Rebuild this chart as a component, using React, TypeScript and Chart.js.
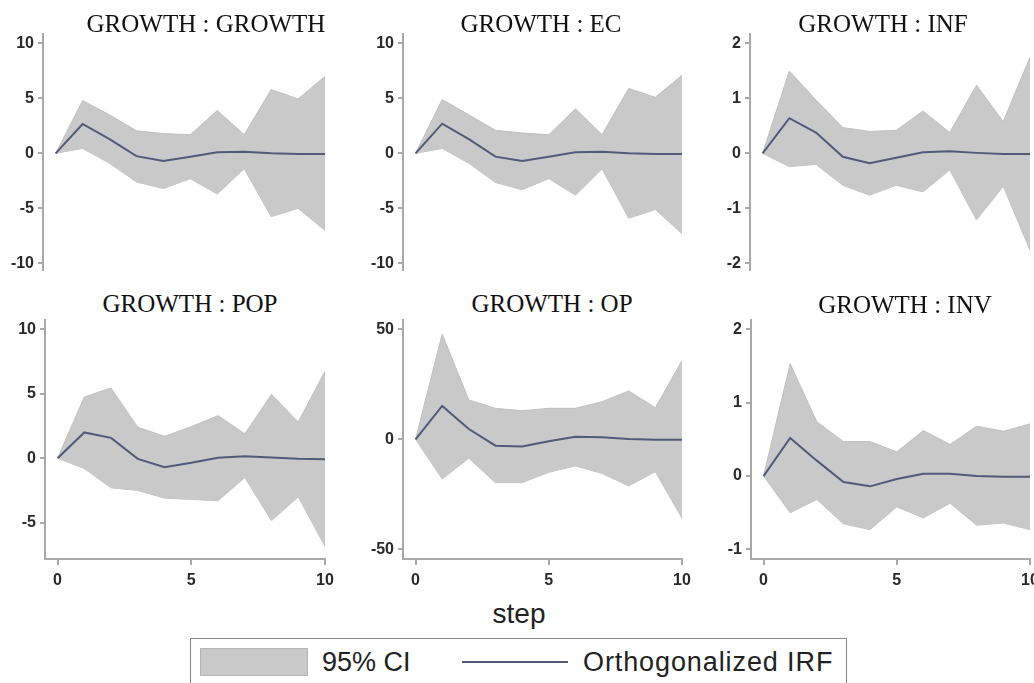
import React, { useEffect, useRef } from "react";
import { Chart, registerables } from "chart.js";

Chart.register(...registerables);

// ---------- data ----------
const STEPS = [0, 1, 2, 3, 4, 5, 6, 7, 8, 9, 10];
const X_TICKS = [0, 5, 10];

// GROWTH : GROWTH
const GG_IRF = [0, 2.67, 1.3, -0.25, -0.7, -0.3, 0.1, 0.15, 0, -0.05, -0.05];
const GG_UPPER = [0, 4.8, 3.5, 2.05, 1.8, 1.7, 3.9, 1.7, 5.8, 4.95, 7.0];
const GG_LOWER = [0, 0.45, -0.9, -2.6, -3.2, -2.3, -3.7, -1.4, -5.75, -5.0, -7.0];
const GG_TICKS = [-10, -5, 0, 5, 10];

// GROWTH : EC
const GE_IRF = [0, 2.7, 1.3, -0.3, -0.7, -0.3, 0.1, 0.15, 0, -0.05, -0.05];
const GE_UPPER = [0, 4.9, 3.5, 2.1, 1.85, 1.7, 4.05, 1.7, 5.9, 5.1, 7.1];
const GE_LOWER = [0, 0.45, -0.9, -2.65, -3.3, -2.3, -3.8, -1.4, -5.9, -5.1, -7.3];
const GE_TICKS = [-10, -5, 0, 5, 10];

// GROWTH : INF
const GI_IRF = [0, 0.64, 0.38, -0.06, -0.18, -0.08, 0.02, 0.04, 0.01, -0.01, -0.01];
const GI_UPPER = [0, 1.5, 0.97, 0.47, 0.4, 0.42, 0.77, 0.38, 1.24, 0.58, 1.75];
const GI_LOWER = [0, -0.24, -0.2, -0.58, -0.76, -0.58, -0.7, -0.3, -1.21, -0.6, -1.76];
const GI_TICKS = [-2, -1, 0, 1, 2];

// GROWTH : POP
const GP_IRF = [0, 2.0, 1.58, -0.05, -0.7, -0.36, 0.03, 0.15, 0.05, -0.05, -0.08];
const GP_UPPER = [0, 4.75, 5.45, 2.4, 1.7, 2.45, 3.3, 1.9, 4.95, 2.8, 6.75];
const GP_LOWER = [0, -0.8, -2.3, -2.5, -3.1, -3.2, -3.3, -1.5, -4.85, -3.0, -6.85];
const GP_TICKS = [-5, 0, 5, 10];

// GROWTH : OP
const GO_IRF = [0, 15.2, 4.7, -2.9, -3.3, -0.9, 1.2, 0.9, 0.15, -0.15, -0.15];
const GO_UPPER = [0, 47.9, 17.9, 14.1, 13.0, 14.1, 14.1, 17.1, 22.0, 14.4, 35.8];
const GO_LOWER = [0, -18.0, -8.6, -19.7, -19.7, -15.0, -12.1, -15.5, -21.2, -14.7, -35.9];
const GO_TICKS = [-50, 0, 50];

// GROWTH : INV
const GV_IRF = [0, 0.52, 0.21, -0.08, -0.14, -0.04, 0.03, 0.03, 0.0, -0.01, -0.01];
const GV_UPPER = [0, 1.53, 0.74, 0.47, 0.47, 0.33, 0.62, 0.43, 0.68, 0.61, 0.71];
const GV_LOWER = [0, -0.5, -0.32, -0.65, -0.73, -0.42, -0.57, -0.37, -0.67, -0.64, -0.73];
const GV_TICKS = [-1, 0, 1, 2];

const TITLES = [
  "GROWTH : GROWTH",
  "GROWTH : EC",
  "GROWTH : INF",
  "GROWTH : POP",
  "GROWTH : OP",
  "GROWTH : INV",
];
const X_TITLE = "step";
const LEGEND_CI = "95% CI";
const LEGEND_IRF = "Orthogonalized IRF";

// ---------- styles ----------
const FILL = "#c9c9c9";
const FILL_EDGE = "#c0c0c0";
const LINE = "#52597a";
const AXIS = "#a9a9a9";
const TICK_COLOR = "#2a2a2a";
const SANS = "'Liberation Sans', Arial, sans-serif";
const SERIF = "'Liberation Serif', 'Times New Roman', serif";
const Y_AXIS_W = 45;
const X_AXIS_H = 35;
const PAD_R = 12;
const X_MIN = -0.47;

type PanelDef = {
  title: string;
  irf: number[];
  upper: number[];
  lower: number[];
  yTicks: number[];
  yMin: number;
  yMax: number;
  showX: boolean;
  axisX: number; // px of y-axis line
  endX: number; // px of step 10
  top: number;
  bottom: number;
  titleX: number;
  titleY: number;
};

const PANELS: PanelDef[] = [
  { title: TITLES[0], irf: GG_IRF, upper: GG_UPPER, lower: GG_LOWER, yTicks: GG_TICKS, yMin: -10.6, yMax: 10.94, showX: false, axisX: 43, endX: 325, top: 33, bottom: 270, titleX: 206, titleY: 24 },
  { title: TITLES[1], irf: GE_IRF, upper: GE_UPPER, lower: GE_LOWER, yTicks: GE_TICKS, yMin: -10.6, yMax: 10.94, showX: false, axisX: 403, endX: 682, top: 33, bottom: 270, titleX: 541, titleY: 24 },
  { title: TITLES[2], irf: GI_IRF, upper: GI_UPPER, lower: GI_LOWER, yTicks: GI_TICKS, yMin: -2.12, yMax: 2.19, showX: false, axisX: 750, endX: 1030, top: 33, bottom: 270, titleX: 883, titleY: 24 },
  { title: TITLES[3], irf: GP_IRF, upper: GP_UPPER, lower: GP_LOWER, yTicks: GP_TICKS, yMin: -7.82, yMax: 10.8, showX: true, axisX: 45, endX: 324.5, top: 319, bottom: 559, titleX: 190, titleY: 304 },
  { title: TITLES[4], irf: GO_IRF, upper: GO_UPPER, lower: GO_LOWER, yTicks: GO_TICKS, yMin: -54.4, yMax: 54.7, showX: true, axisX: 403, endX: 682, top: 319, bottom: 559, titleX: 552, titleY: 304 },
  { title: TITLES[5], irf: GV_IRF, upper: GV_UPPER, lower: GV_LOWER, yTicks: GV_TICKS, yMin: -1.13, yMax: 2.14, showX: true, axisX: 751, endX: 1030, top: 319, bottom: 559, titleX: 905, titleY: 305 },
];

function Panel({ p }: { p: PanelDef }) {
  const ref = useRef<HTMLCanvasElement | null>(null);
  const left = p.axisX - Y_AXIS_W;
  const width = Math.round(p.endX - left + PAD_R);
  const padBottom = p.showX ? 0 : 10;
  const height = Math.round(p.bottom - p.top + (p.showX ? X_AXIS_H : 0) + padBottom);

  useEffect(() => {
    const ctx = ref.current;
    if (!ctx) return;
    const toPts = (arr: number[]) => STEPS.map((s, i) => ({ x: s, y: arr[i] }));
    const chart = new Chart(ctx, {
      type: "line",
      data: {
        datasets: [
          {
            label: LEGEND_IRF,
            data: toPts(p.irf),
            borderColor: LINE,
            borderWidth: 2,
            pointRadius: 0,
            fill: false,
            tension: 0,
            order: 0,
          },
          {
            label: "upper",
            data: toPts(p.upper),
            borderColor: FILL_EDGE,
            backgroundColor: FILL,
            borderWidth: 1,
            pointRadius: 0,
            fill: "+1",
            tension: 0,
            order: 1,
          },
          {
            label: "lower",
            data: toPts(p.lower),
            borderColor: FILL_EDGE,
            borderWidth: 1,
            pointRadius: 0,
            fill: false,
            tension: 0,
            order: 2,
          },
        ],
      },
      options: {
        animation: false,
        responsive: false,
        maintainAspectRatio: false,
        devicePixelRatio: 1,
        layout: { padding: { left: 0, top: 0, right: PAD_R, bottom: padBottom } },
        plugins: {
          legend: { display: false },
          tooltip: { enabled: false },
          title: { display: false },
        },
        scales: {
          x: {
            type: "linear",
            display: p.showX,
            min: X_MIN,
            max: 10,
            afterBuildTicks: (s: any) => {
              s.ticks = X_TICKS.map((v) => ({ value: v }));
            },
            afterFit: (s: any) => {
              s.height = p.showX ? X_AXIS_H : 0;
              s.paddingLeft = 0;
              s.paddingRight = 0;
            },
            grid: { drawOnChartArea: false, drawTicks: true, tickLength: 6, color: AXIS, lineWidth: 2 },
            border: { display: true, color: AXIS, width: 2 },
            ticks: {
              autoSkip: false,
              maxRotation: 0,
              padding: 6,
              color: TICK_COLOR,
              font: { family: SANS, size: 16, weight: "bold" },
            },
          },
          y: {
            type: "linear",
            min: p.yMin,
            max: p.yMax,
            afterBuildTicks: (s: any) => {
              s.ticks = p.yTicks.map((v) => ({ value: v }));
            },
            afterFit: (s: any) => {
              s.width = Y_AXIS_W;
              s.paddingTop = 0;
              s.paddingBottom = 0;
            },
            grid: { drawOnChartArea: false, drawTicks: true, tickLength: 5, color: AXIS, lineWidth: 2 },
            border: { display: true, color: AXIS, width: 2 },
            ticks: {
              autoSkip: false,
              padding: 4,
              color: TICK_COLOR,
              font: { family: SANS, size: 16, weight: "bold" },
            },
          },
        },
      },
    } as any);
    return () => chart.destroy();
  }, []);

  return (
    <>
      <canvas
        ref={ref}
        width={width}
        height={height}
        style={{ position: "absolute", left, top: p.top, width, height }}
      />
      <div
        style={{
          position: "absolute",
          left: p.titleX - 200,
          top: p.titleY - 15,
          width: 400,
          height: 30,
          lineHeight: "30px",
          textAlign: "center",
          fontFamily: SERIF,
          fontSize: 25,
          color: "#111",
          whiteSpace: "nowrap",
        }}
      >
        {p.title}
      </div>
    </>
  );
}

export default function App() {
  return (
    <div
      style={{
        position: "fixed",
        left: 0,
        top: 0,
        width: 1034,
        height: 683,
        overflow: "hidden",
        background: "#fff",
      }}
    >
      {PANELS.map((p, i) => (
        <Panel key={i} p={p} />
      ))}
      <div
        style={{
          position: "absolute",
          left: 419,
          top: 598,
          width: 200,
          height: 32,
          lineHeight: "32px",
          textAlign: "center",
          fontFamily: SANS,
          fontSize: 28,
          color: "#222",
        }}
      >
        {X_TITLE}
      </div>
      <div
        style={{
          position: "absolute",
          left: 190,
          top: 638,
          width: 657,
          height: 60,
          border: "1.5px solid #8a8a8a",
          boxSizing: "border-box",
        }}
      >
        <div
          style={{
            position: "absolute",
            left: 9,
            top: 9,
            width: 108,
            height: 28,
            background: FILL,
            border: "1px solid #b5b5b5",
            boxSizing: "border-box",
          }}
        />
        <div
          style={{
            position: "absolute",
            left: 131,
            top: 7,
            height: 32,
            lineHeight: "32px",
            fontFamily: SANS,
            fontSize: 27,
            color: "#222",
            whiteSpace: "nowrap",
          }}
        >
          {LEGEND_CI}
        </div>
        <div
          style={{
            position: "absolute",
            left: 271,
            top: 22,
            width: 106,
            height: 2,
            background: LINE,
          }}
        />
        <div
          style={{
            position: "absolute",
            left: 392,
            top: 7,
            height: 32,
            lineHeight: "32px",
            fontFamily: SANS,
            fontSize: 27,
            letterSpacing: "0.9px",
            color: "#222",
            whiteSpace: "nowrap",
          }}
        >
          {LEGEND_IRF}
        </div>
      </div>
    </div>
  );
}
